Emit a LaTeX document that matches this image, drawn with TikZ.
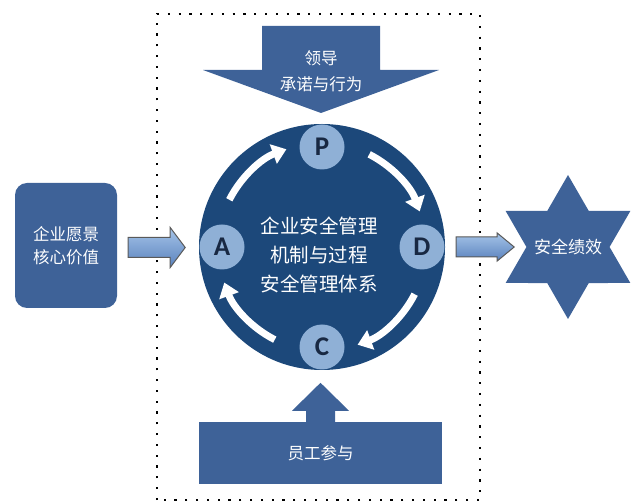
\documentclass[tikz,border=0pt]{standalone}
\usepackage{fontspec}
\usepackage{tikz}
\usetikzlibrary{calc,shapes.geometric,arrows.meta}
\newfontfamily\cjk{Noto Sans CJK SC}
\newfontfamily\letterfont{Carlito}
\definecolor{boxblue}{RGB}{62,98,152}
\definecolor{ringblue}{RGB}{28,72,122}
\definecolor{letterblue}{RGB}{143,176,214}
\definecolor{letterdark}{RGB}{24,40,66}
\definecolor{arrowlight}{RGB}{165,196,232}
\definecolor{arrowdark}{RGB}{90,130,190}

\begin{document}
\begin{tikzpicture}[x=1pt,y=1pt,
  whitetext/.style={text=white,font=\cjk\fontsize{16.5}{26}\selectfont,align=center},
  phase/.style={circle,fill=letterblue,minimum size=45pt,inner sep=0pt,font=\letterfont\bfseries\fontsize{27}{27}\selectfont,text=letterdark},
  cyclearrow/.style={white,line width=7pt,-{Triangle[width=20pt,length=14pt]}},
  sidearrow/.style={draw=black!65,line width=1pt,top color=arrowlight,bottom color=arrowdark}]
\useasboundingbox (0,0) rectangle (634,503);
%system boundary
\draw[line width=2.2pt,dash pattern=on 2.2pt off 8.6pt] (157,3) rectangle (480,489);
%leadership arrow
\fill[boxblue] (262,477) -- (380,477) -- (380,433) -- (439,433) -- (321,390) -- (203,433) -- (262,433) -- cycle;
\node[whitetext] (leader) at (321,432) {领导\\承诺与行为};
%pdca circle
\node[circle,fill=ringblue,minimum size=246pt,inner sep=0pt] (pdca) at (322,256) {};
\node[whitetext,font=\cjk\fontsize{19.5}{29}\selectfont] (system) at (319,248) {企业安全管理\\机制与过程\\安全管理体系};
\foreach \name/\ang in {P/90,D/0,C/270,A/180}
  \node[phase] (\name) at ($(pdca)+(\ang:100)$) {\name};
\foreach \s in {63,-27,-117,153}
  \draw[cyclearrow] ($(pdca)+(\s:104)$) arc[start angle=\s,end angle=\s-43,radius=104];
%vision box
\node[fill=boxblue,rounded corners=12pt,minimum width=102pt,minimum height=125pt,whitetext,font=\cjk\fontsize{16.5}{23}\selectfont] (vision) at (66,257.5) {企业愿景\\核心价值};
\draw[sidearrow] ($(vision.east)+(11,-12)$) -- ++(42,0) -- ++(0,-10) -- ++(15,20) -- ++(-15,20) -- ++(0,-10) -- ++(-42,0) -- cycle;
%performance star
\node[star,star points=6,star point ratio=1.732,minimum size=144pt,inner sep=0pt,fill=boxblue] (star) at (568,256) {};
\node[whitetext,font=\cjk\fontsize{17}{20}\selectfont] (result) at (star.center) {安全绩效};
\draw[sidearrow] ($(pdca.east)+(11,-10)$) -- ++(41,0) -- ++(0,-4) -- ++(17,14) -- ++(-17,14) -- ++(0,-4) -- ++(-41,0) -- cycle;
%staff box
\node[fill=boxblue,minimum width=243pt,minimum height=62pt,whitetext] (staff) at (320.5,50) {员工参与};
\fill[boxblue] ($(staff.north)+(-14.5,0)$) -- ++(0,11) -- ++(-14,0) -- ++(28.5,28) -- ++(28.5,-28) -- ++(-14,0) -- ++(0,-11) -- cycle;
\end{tikzpicture}
\end{document}
